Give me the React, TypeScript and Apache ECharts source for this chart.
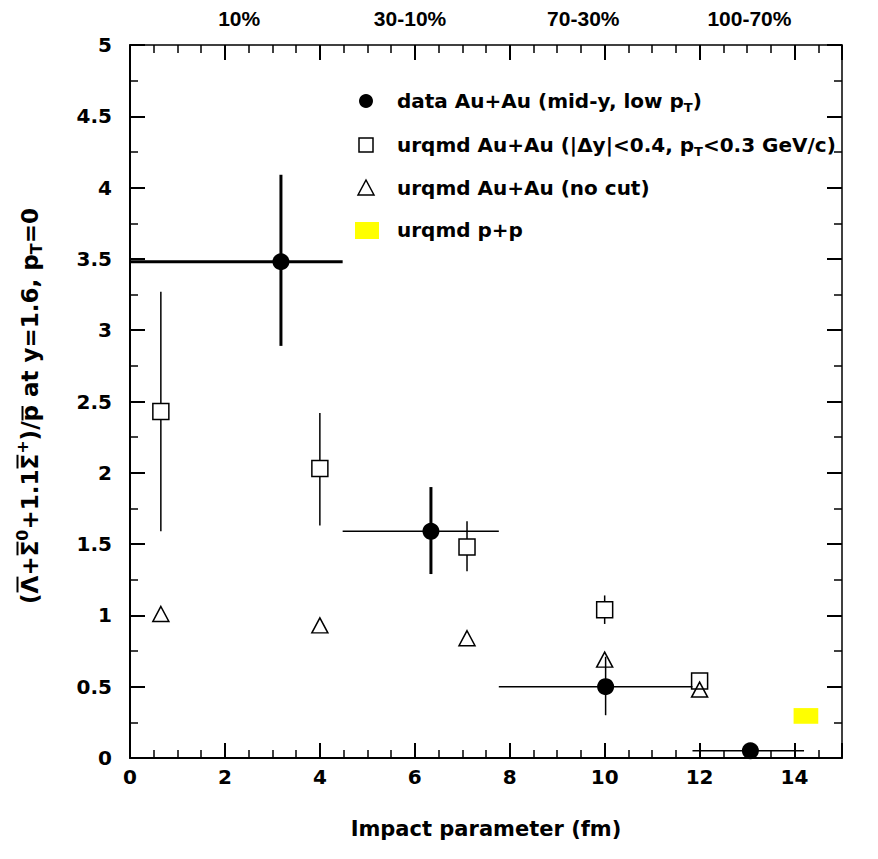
import React, { useEffect, useRef } from "react";
import * as echarts from "echarts";

// ---- measured values ----
// data Au+Au (mid-y, low pT): impact parameter b (fm) and ratio, with error ranges
const dataB = [3.18, 6.34, 10.02, 13.07];
const dataRatio = [3.48, 1.59, 0.5, 0.05];
const dataBLow = [0.0, 4.48, 7.77, 11.85];
const dataBHigh = [4.48, 7.77, 11.85, 14.2];
const dataRatioLow = [2.89, 1.29, 0.3, 0.05];
const dataRatioHigh = [4.09, 1.9, 0.71, 0.05];

// urqmd Au+Au with |Δy|<0.4, pT<0.3 GeV/c cut
const cutB = [0.65, 4.0, 7.1, 10.0, 12.0];
const cutRatio = [2.43, 2.03, 1.48, 1.04, 0.54];
const cutRatioLow = [1.59, 1.63, 1.31, 0.94, 0.51];
const cutRatioHigh = [3.27, 2.42, 1.66, 1.14, 0.57];

// urqmd Au+Au without cut
const allB = [0.65, 4.0, 7.1, 10.0, 12.0];
const allRatio = [1.01, 0.93, 0.84, 0.69, 0.48];

// urqmd p+p (box)
const ppBLow = [13.98];
const ppBHigh = [14.5];
const ppRatioLow = [0.24];
const ppRatioHigh = [0.35];

// centrality classes shown above the frame
const centralityLabels = ["10%", "30-10%", "70-30%", "100-70%"];
const centralityB = [2.3, 5.9, 9.55, 13.05];

const xTickLabels = [0, 2, 4, 6, 8, 10, 12, 14];

// y-axis title pieces: kind n = normal, sup = superscript, sub = subscript; bar = overline
const yTitlePieces = [
  { t: "(", k: "n" },
  { t: "\u039B", k: "n", bar: true },
  { t: "+", k: "n" },
  { t: "\u03A3", k: "n", bar: true },
  { t: "0", k: "sup" },
  { t: "+1.1", k: "n" },
  { t: "\u03A3", k: "n", bar: true },
  { t: "+", k: "sup" },
  { t: ")/", k: "n" },
  { t: "p", k: "n", bar: true },
  { t: " at y=1.6, p", k: "n" },
  { t: "T", k: "sub" },
  { t: "=0", k: "n" },
];

// ---- styles ----
const FONT = '"DejaVu Sans", "Liberation Sans", Arial, sans-serif';
const TOP_FONT = '"Liberation Sans", Arial, Helvetica, sans-serif';
const BLACK = "#000";
// [horizontal, vertical] error-bar widths of the data points
const dataBarWidth = [
  [3, 3],
  [1.5, 3],
  [1.5, 1.5],
  [1.5, 1.5],
];

const GRID = { left: 130, right: 36, top: 45, bottom: 101 };
const W = 878;
const H = 859;

const TITLE_SIZE = 23;
const TITLE_SMALL = 16;

const richLegend = {
  b: { fontFamily: FONT, fontWeight: "bold", fontSize: 20, color: BLACK, lineHeight: 26 },
  sub: { fontFamily: FONT, fontWeight: "bold", fontSize: 13, color: BLACK, verticalAlign: "bottom", lineHeight: 13 },
};

function xAxisDef(position: "bottom" | "top", major: boolean) {
  return {
    type: "value",
    position,
    min: 0,
    max: 15,
    interval: major ? 2 : 0.5,
    axisLine: {
      show: major,
      onZero: false,
      lineStyle: { color: BLACK, width: position === "bottom" ? 2 : 1.5 },
    },
    axisTick: {
      show: true,
      inside: true,
      length: major ? 15 : 8,
      lineStyle: { color: BLACK, width: major ? 2 : 1.5 },
    },
    axisLabel: {
      show: major && position === "bottom",
      margin: 9,
      fontFamily: FONT,
      fontWeight: "bold",
      fontSize: 20,
      color: BLACK,
      formatter: (v: number) => (xTickLabels.indexOf(v) >= 0 ? String(v) : ""),
    },
    splitLine: { show: false },
    ...(major && position === "bottom"
      ? {
          name: "Impact parameter (fm)",
          nameLocation: "middle",
          nameGap: 60,
          nameTextStyle: { fontFamily: FONT, fontWeight: "bold", fontSize: 21, color: BLACK },
        }
      : {}),
  };
}

function yAxisDef(position: "left" | "right") {
  return {
    type: "value",
    position,
    min: 0,
    max: 5,
    interval: 0.5,
    axisLine: {
      show: true,
      onZero: false,
      lineStyle: { color: BLACK, width: position === "left" ? 2 : 1.5 },
    },
    axisTick: { show: true, inside: true, length: 15, lineStyle: { color: BLACK, width: 2 } },
    minorTick: { show: true, splitNumber: 2, length: 8, lineStyle: { color: BLACK, width: 1.5 } },
    axisLabel: {
      show: position === "left",
      margin: 18,
      fontFamily: FONT,
      fontWeight: "bold",
      fontSize: 20,
      color: BLACK,
    },
    splitLine: { show: false },
  };
}

function errorBarItem(gap: number, widthFor: (i: number) => number[]) {
  return (params: any, api: any) => {
    const x = api.value(0);
    const y = api.value(1);
    const xlo = api.value(2);
    const xhi = api.value(3);
    const ylo = api.value(4);
    const yhi = api.value(5);
    const c = api.coord([x, y]);
    const l = api.coord([xlo, y]);
    const r = api.coord([xhi, y]);
    const b = api.coord([x, ylo]);
    const t = api.coord([x, yhi]);
    const [hw, vw] = widthFor(params.dataIndex);
    const children: any[] = [];
    const seg = (x1: number, y1: number, x2: number, y2: number, w: number) =>
      children.push({
        type: "line",
        shape: { x1, y1, x2, y2 },
        style: { stroke: BLACK, lineWidth: w },
      });
    if (c[0] - gap > l[0]) seg(l[0], c[1], c[0] - gap, c[1], hw);
    if (r[0] > c[0] + gap) seg(c[0] + gap, c[1], r[0], c[1], hw);
    if (c[1] - gap > t[1]) seg(c[0], t[1], c[0], c[1] - gap, vw);
    if (b[1] > c[1] + gap) seg(c[0], c[1] + gap, c[0], b[1], vw);
    return { type: "group", children };
  };
}

// Lays out the rotated y-axis title, with overbars, superscripts and subscripts.
function buildYTitle(cx: number, cy: number) {
  const ctx = document.createElement("canvas").getContext("2d")!;
  const measure = (text: string, size: number) => {
    ctx.font = `bold ${size}px "DejaVu Sans"`;
    return ctx.measureText(text).width;
  };
  const pieces = yTitlePieces.map((p) => {
    const size = p.k === "n" ? TITLE_SIZE : TITLE_SMALL;
    const lead = p.t.length - p.t.trimStart().length;
    return {
      ...p,
      size,
      text: p.t.trimStart(),
      leadW: lead ? measure(" ".repeat(lead), size) : 0,
      w: measure(p.t, size),
    };
  });
  const total = pieces.reduce((s, p) => s + p.w, 0);
  let x = -total / 2;
  const children: any[] = [];
  for (const p of pieces) {
    const dy = p.k === "sup" ? -8 : p.k === "sub" ? 6 : 0;
    children.push({
      type: "text",
      x: x + p.leadW,
      y: dy,
      style: {
        text: p.text,
        fontFamily: FONT,
        fontWeight: "bold",
        fontSize: p.size,
        fill: BLACK,
        align: "left",
        verticalAlign: "middle",
      },
    });
    if (p.bar) {
      const capital = p.t !== p.t.toLowerCase();
      const by = capital ? -12.5 : -7.5;
      children.push({
        type: "line",
        shape: { x1: x + 1, y1: by, x2: x + p.w - 1, y2: by },
        style: { stroke: BLACK, lineWidth: 2 },
      });
    }
    x += p.w;
  }
  return { type: "group", x: cx, y: cy, rotation: Math.PI / 2, children };
}

export default function App() {
  const ref = useRef<HTMLDivElement>(null);

  useEffect(() => {
    if (!ref.current) return;
    const chart = echarts.init(ref.current, null, { renderer: "svg" });

    const dataRows = dataB.map((b, i) => [b, dataRatio[i], dataBLow[i], dataBHigh[i], dataRatioLow[i], dataRatioHigh[i]]);
    const cutRows = cutB.map((b, i) => [b, cutRatio[i], b, b, cutRatioLow[i], cutRatioHigh[i]]);
    const ppRows = ppBLow.map((lo, i) => [lo, ppBHigh[i], ppRatioLow[i], ppRatioHigh[i]]);

    const plotLeft = GRID.left;
    const plotRight = W - GRID.right;
    const bToPx = (b: number) => plotLeft + ((plotRight - plotLeft) * b) / 15;

    const legendX = 366;
    const legendTextX = 397;
    const rowY = [101, 145, 188, 230];

    const markerStyle = { color: "rgba(255,255,255,0)", borderColor: BLACK, borderWidth: 1.5, opacity: 1 };

    chart.setOption({
      animation: false,
      backgroundColor: "#fff",
      grid: { ...GRID, containLabel: false },
      xAxis: [xAxisDef("bottom", true), xAxisDef("bottom", false), xAxisDef("top", true), xAxisDef("top", false)],
      yAxis: [yAxisDef("left"), yAxisDef("right")],
      series: [
        {
          name: "urqmd p+p",
          type: "custom",
          xAxisIndex: 0,
          yAxisIndex: 0,
          data: ppRows,
          encode: { x: [0, 1], y: [2, 3] },
          renderItem: (params: any, api: any) => {
            const p1 = api.coord([api.value(0), api.value(3)]);
            const p2 = api.coord([api.value(1), api.value(2)]);
            return {
              type: "rect",
              shape: { x: p1[0], y: p1[1], width: p2[0] - p1[0], height: p2[1] - p1[1] },
              style: { fill: "#ffff00" },
            };
          },
          z: 1,
        },
        {
          name: "data errors",
          type: "custom",
          xAxisIndex: 0,
          yAxisIndex: 0,
          data: dataRows,
          encode: { x: [0, 2, 3], y: [1, 4, 5] },
          renderItem: errorBarItem(0, (i) => dataBarWidth[i]),
          z: 2,
        },
        {
          name: "urqmd cut errors",
          type: "custom",
          xAxisIndex: 0,
          yAxisIndex: 0,
          data: cutRows,
          encode: { x: [0, 2, 3], y: [1, 4, 5] },
          renderItem: errorBarItem(8, () => [1.5, 1.5]),
          z: 2,
        },
        {
          name: "urqmd Au+Au (no cut)",
          type: "scatter",
          xAxisIndex: 0,
          yAxisIndex: 0,
          symbol: "triangle",
          symbolSize: [16, 15],
          data: allB.map((b, i) => [b, allRatio[i]]),
          itemStyle: markerStyle,
          z: 3,
        },
        {
          name: "urqmd Au+Au (|Δy|<0.4, pT<0.3 GeV/c)",
          type: "scatter",
          xAxisIndex: 0,
          yAxisIndex: 0,
          symbol: "rect",
          symbolSize: 16,
          data: cutB.map((b, i) => [b, cutRatio[i]]),
          itemStyle: markerStyle,
          z: 4,
        },
        {
          name: "data Au+Au (mid-y, low pT)",
          type: "scatter",
          xAxisIndex: 0,
          yAxisIndex: 0,
          symbol: "circle",
          symbolSize: 17,
          data: dataB.map((b, i) => [b, dataRatio[i]]),
          itemStyle: { color: BLACK, opacity: 1 },
          z: 5,
        },
      ],
      graphic: [
        buildYTitle(30, 406),
        // centrality classes above the frame
        ...centralityLabels.map((t, i) => ({
          type: "text",
          x: bToPx(centralityB[i]),
          y: 18,
          style: {
            text: t,
            fontFamily: TOP_FONT,
            fontWeight: "bold",
            fontSize: 21,
            fill: BLACK,
            align: "center",
            verticalAlign: "middle",
          },
        })),
        // legend markers
        { type: "circle", shape: { cx: legendX, cy: rowY[0], r: 7 }, style: { fill: BLACK } },
        {
          type: "rect",
          shape: { x: legendX - 7, y: rowY[1] - 7, width: 14, height: 14 },
          style: { fill: "none", stroke: BLACK, lineWidth: 1.5 },
        },
        {
          type: "polygon",
          shape: { points: [[legendX, rowY[2] - 8], [legendX + 8, rowY[2] + 7], [legendX - 8, rowY[2] + 7]] },
          style: { fill: "none", stroke: BLACK, lineWidth: 1.5 },
        },
        {
          type: "rect",
          shape: { x: legendX - 11, y: rowY[3] - 8, width: 24, height: 17 },
          style: { fill: "#ffff00" },
        },
        // legend texts
        ...[
          "{b|data Au+Au (mid-y, low p}{sub|T}{b|)}",
          "{b|urqmd Au+Au (|\u0394y|<0.4, p}{sub|T}{b|<0.3 GeV/c)}",
          "{b|urqmd Au+Au (no cut)}",
          "{b|urqmd p+p}",
        ].map((t, i) => ({
          type: "text",
          x: legendTextX,
          y: rowY[i],
          style: { text: t, rich: richLegend, align: "left", verticalAlign: "middle" },
        })),
      ],
    });

    return () => chart.dispose();
  }, []);

  return (
    <div
      ref={ref}
      style={{ position: "fixed", left: 0, top: 0, width: W, height: H, background: "#fff" }}
    />
  );
}
